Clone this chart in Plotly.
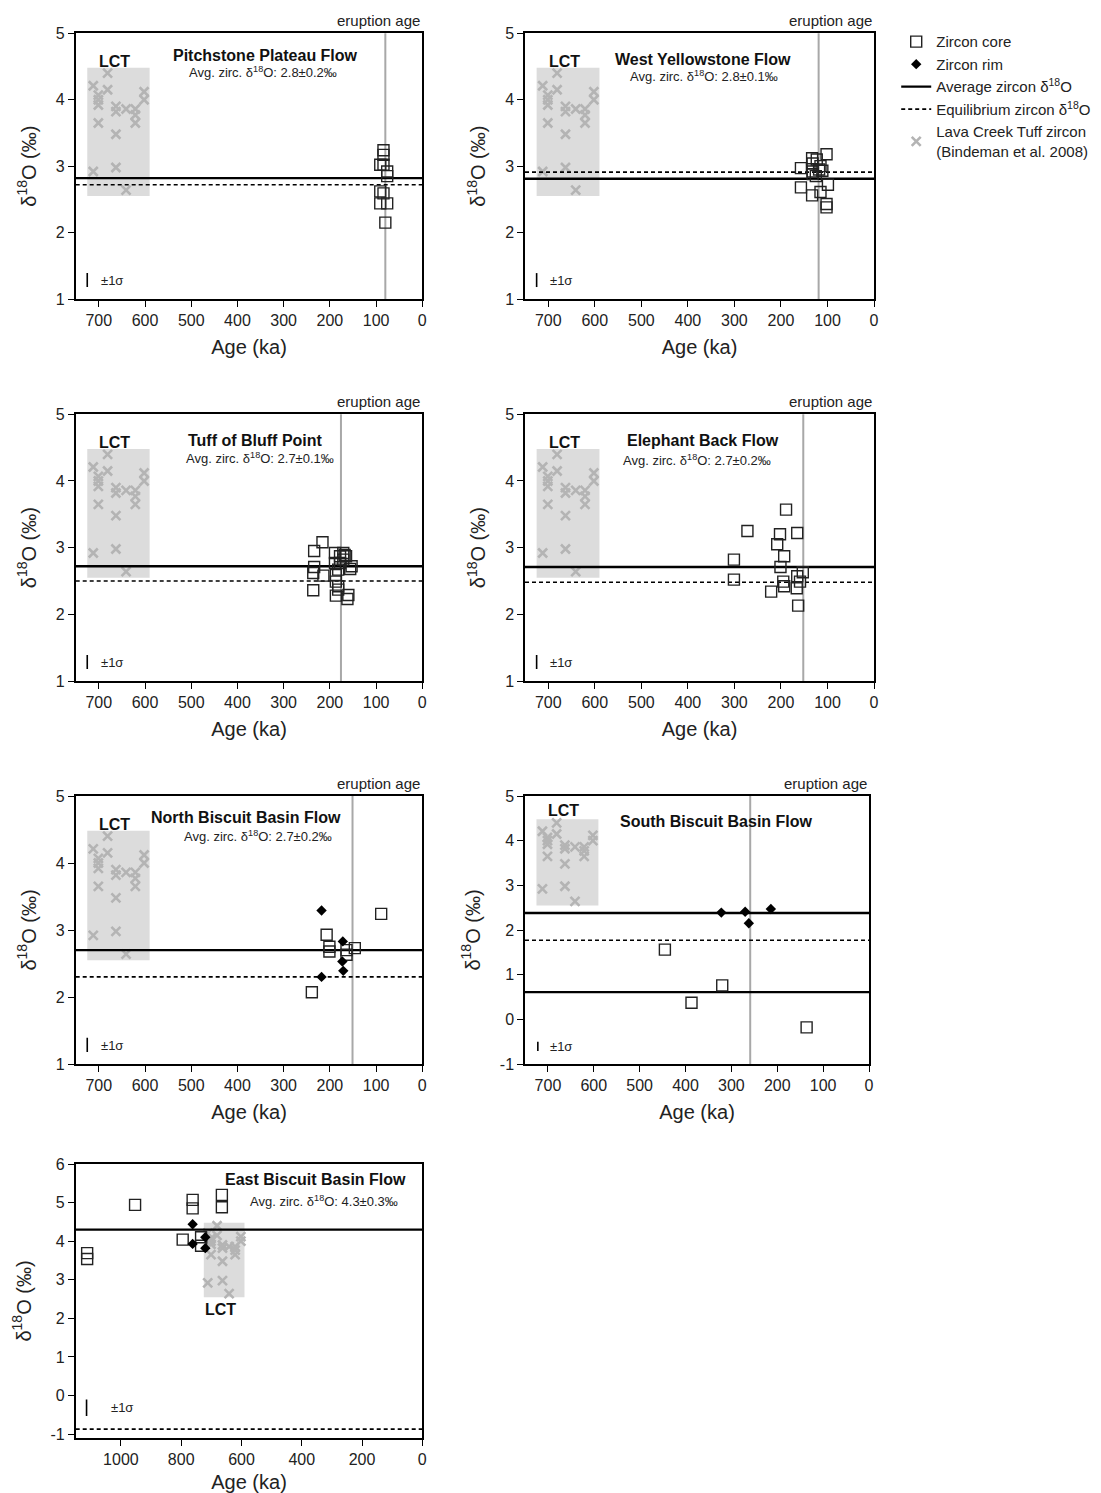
import plotly.graph_objects as go

FONT = "Liberation Sans, Arial, sans-serif"

# ---------------- data ----------------
# Lava Creek Tuff zircon (Bindeman et al. 2008) - same in every panel
LCT_age = [712, 701, 701, 701, 701, 681, 681, 663, 663, 663, 663, 641, 641, 621, 621, 621, 602, 602, 712]
LCT_d18O = [4.21, 4.07, 4.00, 3.92, 3.65, 4.40, 4.15, 3.90, 3.82, 3.48, 2.98, 3.86, 2.64, 3.86, 3.77, 3.65, 4.12, 4.00, 2.92]
LCT_box_age = [725, 590]
LCT_box_d18O = [2.55, 4.48]

panel_names = ["Pitchstone Plateau Flow", "West Yellowstone Flow", "Tuff of Bluff Point",
               "Elephant Back Flow", "North Biscuit Basin Flow", "South Biscuit Basin Flow",
               "East Biscuit Basin Flow"]
panel_avg_text = ["2.8\u00b10.2\u2030", "2.8\u00b10.1\u2030", "2.7\u00b10.1\u2030", "2.7\u00b10.2\u2030",
                  "2.7\u00b10.2\u2030", None, "4.3\u00b10.3\u2030"]
eruption_age = [80, 119, 176, 152, 151, 259, None]
avg_d18O = [[2.82], [2.81], [2.72], [2.71], [2.70], [2.38, 0.61], [4.30]]
eq_d18O = [2.72, 2.91, 2.50, 2.48, 2.30, 1.77, -0.87]

# Panel 1 - Pitchstone Plateau Flow
P1_core_age = [84, 84, 91, 84, 76, 76, 91, 84, 91, 76, 80]
P1_core_d18O = [3.24, 3.17, 3.02, 3.02, 2.92, 2.85, 2.62, 2.59, 2.44, 2.44, 2.15]
# Panel 2 - West Yellowstone Flow
P2_core_age = [102, 133, 123, 132, 157, 132, 111, 132, 157, 133, 115, 99, 102, 102, 115, 125, 118]
P2_core_d18O = [3.18, 3.12, 3.10, 3.04, 2.97, 2.92, 2.93, 2.88, 2.68, 2.56, 2.61, 2.72, 2.43, 2.38, 3.00, 2.85, 2.95]
# Panel 3 - Tuff of Bluff Point
P3_core_age = [216, 234, 189, 171, 168, 165, 178, 234, 236, 214, 156, 236, 187, 182, 187, 160, 162,
               187, 182, 189, 178, 171, 153, 182]
P3_core_d18O = [3.08, 2.95, 2.92, 2.92, 2.89, 2.87, 2.87, 2.71, 2.62, 2.58, 2.68, 2.36, 2.49, 2.37, 2.28,
                2.29, 2.23, 2.59, 2.67, 2.77, 2.77, 2.82, 2.72, 2.42]
# Panel 4 - Elephant Back Flow
P4_core_age = [189, 272, 202, 165, 208, 193, 301, 201, 153, 165, 301, 195, 193, 166, 221, 163, 159]
P4_core_d18O = [3.57, 3.25, 3.20, 3.22, 3.05, 2.87, 2.82, 2.71, 2.63, 2.57, 2.52, 2.49, 2.42, 2.39, 2.34, 2.13, 2.49]
# Panel 5 - North Biscuit Basin Flow
P5_core_age = [89, 207, 201, 201, 164, 164, 146, 239]
P5_core_d18O = [3.24, 2.93, 2.75, 2.68, 2.70, 2.63, 2.73, 2.07]
P5_rim_age = [218, 172, 173, 171, 218]
P5_rim_d18O = [3.29, 2.83, 2.53, 2.39, 2.30]
# Panel 6 - South Biscuit Basin Flow
P6_core_age = [445, 320, 387, 136]
P6_core_d18O = [1.56, 0.76, 0.37, -0.18]
P6_rim_age = [322, 270, 214, 262]
P6_rim_d18O = [2.39, 2.41, 2.47, 2.15]
# Panel 7 - East Biscuit Basin Flow
P7_core_age = [1112, 1112, 953, 762, 762, 665, 665, 795, 734, 734]
P7_core_d18O = [3.69, 3.54, 4.94, 5.07, 4.85, 5.20, 4.88, 4.04, 4.10, 3.88]
P7_rim_age = [762, 762, 720, 720]
P7_rim_d18O = [4.44, 3.93, 4.10, 3.82]

core_age = [P1_core_age, P2_core_age, P3_core_age, P4_core_age, P5_core_age, P6_core_age, P7_core_age]
core_d18O = [P1_core_d18O, P2_core_d18O, P3_core_d18O, P4_core_d18O, P5_core_d18O, P6_core_d18O, P7_core_d18O]
rim_age = [None, None, None, None, P5_rim_age, P6_rim_age, P7_rim_age]
rim_d18O = [None, None, None, None, P5_rim_d18O, P6_rim_d18O, P7_rim_d18O]

x_ranges = [[750, 0]] * 6 + [[1150, 0]]
y_ranges = [[1, 5]] * 5 + [[-1, 5], [-1.1, 6]]
x_ticks = [list(range(0, 800, 100))] * 6 + [list(range(0, 1200, 200))]
y_ticks = [[1, 2, 3, 4, 5]] * 5 + [[-1, 0, 1, 2, 3, 4, 5], [-1, 0, 1, 2, 3, 4, 5, 6]]

# ---------------- layout geometry (pixels) ----------------
W, H = 1101, 1493
col_px = [(75.7, 422.3), (525, 874)]
row_px = [(33.3, 299), (414.3, 681), (796, 1064), (1164, 1438)]
pos = [(0, 0), (0, 1), (1, 0), (1, 1), (2, 0), (2, 1), (3, 0)]
col_px6 = (525, 869)

# annotation placement (data coords) per panel
title_pos = [(340, 4.67), (367, 4.60), (360, 4.61), (368, 4.61), (381, 4.68), (332, 4.42), (355, 5.60)]
sub_pos = [(345, 4.41), (366, 4.35), (351, 4.34), (381, 4.31), (355, 4.41), None, (325, 5.03)]
lct_lab = [(665, 4.58)] * 5 + [(665, 4.68), (668, 2.22)]
sigma = [(725, 1.18, 1.39, 1.28)] * 5 + [(722, -0.71, -0.50, -0.60), (1114, -0.53, -0.10, -0.31)]
sigma_txt_x = [700] * 6 + [1040]

fig = go.Figure()
layout = dict()
shapes = []
annotations = []

LCT_GRAY = "#b4b4b4"
BOX_GRAY = "#dcdcdc"

for i in range(7):
    r, c = pos[i]
    n = "" if i == 0 else str(i + 1)
    xa, ya = "x" + n, "y" + n
    if i == 5:
        xd = col_px6
    else:
        xd = col_px[c]
    yd = row_px[r]
    layout["xaxis" + n] = dict(
        domain=[xd[0] / W, xd[1] / W], anchor=ya, range=x_ranges[i], automargin=False,
        tickvals=x_ticks[i], ticktext=[str(v) for v in x_ticks[i]],
        showline=True, mirror=True, linecolor="black", linewidth=1.5,
        ticks="outside", ticklen=6, tickwidth=1.3, tickcolor="black",
        showgrid=False, zeroline=False,
        tickfont=dict(family=FONT, size=16, color="#222"),
        title=dict(text="Age (ka)", font=dict(family=FONT, size=20, color="#222"), standoff=12),
    )
    layout["yaxis" + n] = dict(
        domain=[1 - yd[1] / H, 1 - yd[0] / H], anchor=xa, range=y_ranges[i], automargin=False,
        tickvals=y_ticks[i], ticktext=[str(v) for v in y_ticks[i]],
        showline=True, mirror=True, linecolor="black", linewidth=1.5,
        ticks="outside", ticklen=6, tickwidth=1.3, tickcolor="black",
        showgrid=False, zeroline=False,
        tickfont=dict(family=FONT, size=16, color="#222"),
        title=dict(text="\u03b4<sup>18</sup>O (\u2030)", font=dict(family=FONT, size=20, color="#222"),
                   standoff=14),
    )
    # LCT box
    shapes.append(dict(type="rect", xref=xa, yref=ya, x0=LCT_box_age[0], x1=LCT_box_age[1],
                       y0=LCT_box_d18O[0], y1=LCT_box_d18O[1], fillcolor=BOX_GRAY,
                       line=dict(width=0), layer="below"))
    # eruption age line
    if eruption_age[i] is not None:
        shapes.append(dict(type="line", xref=xa, yref=ya + " domain", x0=eruption_age[i], x1=eruption_age[i],
                           y0=0, y1=1, line=dict(color="#a8a8a8", width=2), layer="below"))
        annotations.append(dict(text="eruption age", xref=xa + " domain", yref=ya + " domain", x=1, y=1,
                                xanchor="right", yanchor="bottom", yshift=2, showarrow=False,
                                font=dict(family=FONT, size=15, color="#222")))
    # sigma bar
    sx, sy0, sy1, sty = sigma[i]
    shapes.append(dict(type="line", xref=xa, yref=ya, x0=sx, x1=sx, y0=sy0, y1=sy1,
                       line=dict(color="black", width=1.6)))
    annotations.append(dict(text="\u00b11\u03c3", xref=xa, yref=ya, x=sigma_txt_x[i], y=sty,
                            xanchor="left", yanchor="middle", showarrow=False,
                            font=dict(family=FONT, size=13, color="#222")))
    # LCT crosses
    fig.add_trace(go.Scatter(x=LCT_age, y=LCT_d18O, xaxis=xa, yaxis=ya, mode="markers",
                             marker=dict(symbol="x-thin", size=9, line=dict(color=LCT_GRAY, width=2.6)),
                             name="Lava Creek Tuff zircon<br>(Bindeman et al. 2008)",
                             showlegend=(i == 0), legendrank=5))
    # lines
    xr = x_ranges[i]
    for k, av in enumerate(avg_d18O[i]):
        fig.add_trace(go.Scatter(x=xr, y=[av, av], xaxis=xa, yaxis=ya, mode="lines",
                                 line=dict(color="black", width=2.4),
                                 name="Average zircon \u03b4<sup>18</sup>O",
                                 showlegend=(i == 0 and k == 0), legendrank=3))
    fig.add_trace(go.Scatter(x=xr, y=[eq_d18O[i], eq_d18O[i]], xaxis=xa, yaxis=ya, mode="lines",
                             line=dict(color="black", width=1.6, dash="4px,3px"),
                             name="Equilibrium zircon \u03b4<sup>18</sup>O",
                             showlegend=(i == 0), legendrank=4))
    # cores
    fig.add_trace(go.Scatter(x=core_age[i], y=core_d18O[i], xaxis=xa, yaxis=ya, mode="markers",
                             marker=dict(symbol="square-open", size=11, color="#222",
                                         line=dict(width=1.4, color="#222")),
                             name="Zircon core", showlegend=(i == 0), legendrank=1))
    # rims
    if rim_age[i] is not None:
        fig.add_trace(go.Scatter(x=rim_age[i], y=rim_d18O[i], xaxis=xa, yaxis=ya, mode="markers",
                                 marker=dict(symbol="diamond", size=8, color="black"),
                                 name="Zircon rim", showlegend=(i == 4), legendrank=2))
    # titles
    tx, ty = title_pos[i]
    annotations.append(dict(text="<b>" + panel_names[i] + "</b>", xref=xa, yref=ya, x=tx, y=ty,
                            xanchor="center", yanchor="middle", showarrow=False,
                            font=dict(family=FONT, size=16, color="#111")))
    if sub_pos[i] is not None:
        sx2, sy2 = sub_pos[i]
        annotations.append(dict(text="Avg. zirc. \u03b4<sup>18</sup>O: " + panel_avg_text[i], xref=xa, yref=ya,
                                x=sx2, y=sy2, xanchor="center", yanchor="middle", showarrow=False,
                                font=dict(family=FONT, size=13, color="#222")))
    lx, ly = lct_lab[i]
    annotations.append(dict(text="<b>LCT</b>", xref=xa, yref=ya, x=lx, y=ly, xanchor="center",
                            yanchor="middle", showarrow=False, font=dict(family=FONT, size=16, color="#111")))

fig.update_layout(
    width=W, height=H, margin=dict(l=0, r=0, t=0, b=0, autoexpand=False),
    paper_bgcolor="white", plot_bgcolor="white",
    font=dict(family=FONT, color="#222"),
    shapes=shapes, annotations=annotations,
    showlegend=True,
    legend=dict(x=0.814, y=0.983, xanchor="left", yanchor="top", bgcolor="rgba(0,0,0,0)",
                font=dict(family=FONT, size=15, color="#222"), itemwidth=30, tracegroupgap=0,
                traceorder="normal"),
    **layout,
)

fig.write_html("out.html",
               post_script="document.body.style.margin='0';document.body.style.overflow='hidden';")
